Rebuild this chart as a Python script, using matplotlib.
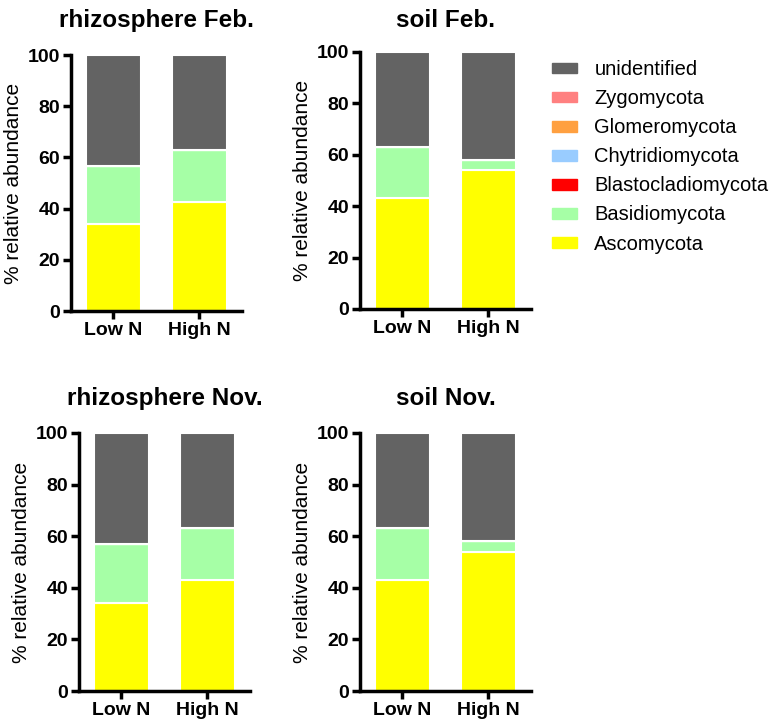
import matplotlib.pyplot as plt
from matplotlib.patches import Patch
import numpy as np

plt.rcParams['font.family'] = ['Liberation Sans', 'DejaVu Sans']

groups = ["Low N", "High N"]
phyla = ["Ascomycota", "Basidiomycota", "Blastocladiomycota",
         "Chytridiomycota", "Glomeromycota", "Zygomycota", "unidentified"]
colors = ["#FFFF00", "#A6FFA6", "#FF0000", "#99CCFF", "#FFA040", "#FF8080", "#636363"]

titles = ["rhizosphere Feb.", "soil Feb.", "rhizosphere Nov.", "soil Nov."]

# % relative abundance, per panel: [phylum][group]
rhizo_feb = [[34.0, 42.5], [22.8, 20.5], [0, 0], [0, 0], [0, 0], [0, 0], [43.2, 37.0]]
soil_feb = [[43.0, 54.0], [20.0, 4.0], [0, 0], [0, 0], [0, 0], [0, 0], [37.0, 42.0]]
rhizo_nov = [[34.0, 43.0], [23.0, 20.0], [0, 0], [0, 0], [0, 0], [0, 0], [43.0, 37.0]]
soil_nov = [[43.0, 54.0], [20.0, 4.0], [0, 0], [0, 0], [0, 0], [0, 0], [37.0, 42.0]]
panels = [rhizo_feb, soil_feb, rhizo_nov, soil_nov]

W, H = 775, 725
fig = plt.figure(figsize=(W / 100, H / 100), dpi=100)

boxes = [(71, 55, 242, 311), (360, 52, 531, 309), (79, 433, 250, 691), (360, 433, 531, 691)]
title_pads = [20, 18, 20, 20]

for box, title, data, tp in zip(boxes, titles, panels, title_pads):
    x0, y0, x1, y1 = box
    ax = fig.add_axes([x0 / W, 1 - y1 / H, (x1 - x0) / W, (y1 - y0) / H])
    x = np.arange(len(groups))
    bottom = np.zeros(len(groups))
    for vals, c in zip(data, colors):
        vals = np.array(vals)
        ax.bar(x, vals, 0.64, bottom=bottom, color=c, edgecolor="white", linewidth=1.5)
        bottom += vals
    ax.set_xlim(-0.49, 1.5)
    ax.set_ylim(0, 100)
    ax.set_yticks([0, 20, 40, 60, 80, 100])
    ax.set_xticks(x)
    ax.set_xticklabels(groups)
    for s in ["top", "right"]:
        ax.spines[s].set_visible(False)
    for s in ["left", "bottom"]:
        ax.spines[s].set_linewidth(2.5)
    ax.tick_params(width=2.5, length=6, labelsize=14, pad=2)
    for lab in ax.get_xticklabels() + ax.get_yticklabels():
        lab.set_fontweight("bold")
    ax.set_ylabel("% relative abundance", fontsize=15, labelpad=3)
    ax.set_title(title, fontsize=17.5, fontweight="bold", pad=tp)

handles = [Patch(color=c, label=p) for p, c in zip(phyla, colors)][::-1]
fig.legend(handles=handles, loc="upper left", bbox_to_anchor=(534 / W, 1 - 42 / H),
           frameon=False, fontsize=14.5, handlelength=1.25, handleheight=0.45,
           labelspacing=0.5, handletextpad=0.85)

fig.savefig("out.png", dpi=100)
